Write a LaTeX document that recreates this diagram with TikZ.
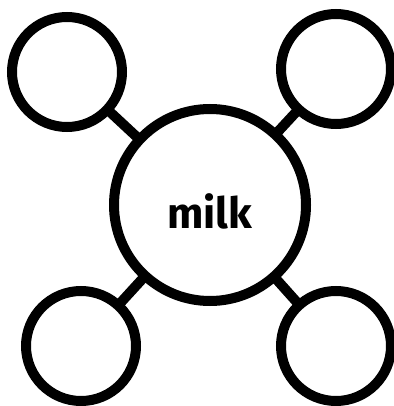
\documentclass[tikz,border=0pt]{standalone}
\usepackage{fontspec}
\setsansfont{Fira Sans}
\usetikzlibrary{positioning}

\begin{document}
\begin{tikzpicture}[x=1pt,y=-1pt,
          hub/.style={circle,draw=black,line width=10pt,minimum size=192pt,inner sep=0pt,outer sep=0pt},
          leaf/.style={circle,draw=black,line width=10pt,minimum size=110pt,inner sep=0pt,outer sep=0pt},
          word/.style={font=\sffamily\bfseries\fontsize{43}{43}\selectfont,yshift=-6pt},
          link/.style={draw=black,line width=10pt}]
        \useasboundingbox (0,0) rectangle (393,406);
        \node[hub,label={[word]center:milk}] (milk) at (210,205) {};
        \node[leaf] (tl) at (67,72) {};
        \node[leaf] (tr) at (336,69) {};
        \node[leaf] (bl) at (81,346) {};
        \node[leaf] (br) at (336,346) {};
        \draw[link] (milk) -- (tl);
        \draw[link] (milk) -- (tr);
        \draw[link] (milk) -- (bl);
        \draw[link] (milk) -- (br);
        \end{tikzpicture}
\end{document}
